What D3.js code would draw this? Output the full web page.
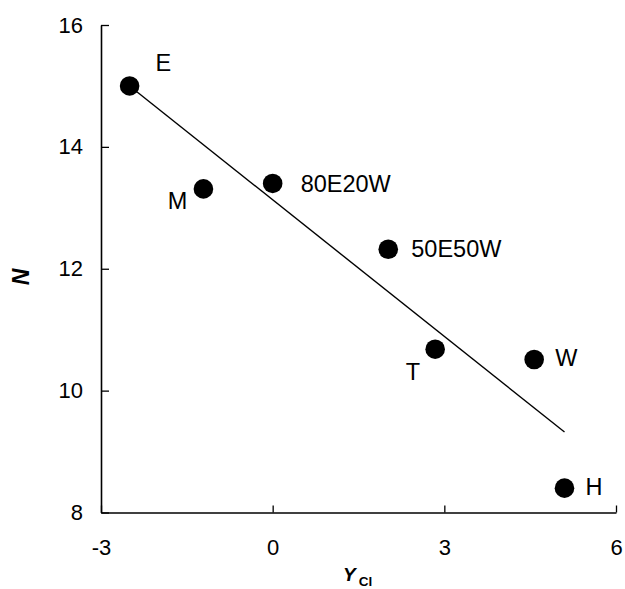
<!DOCTYPE html>
<html>
<head>
<meta charset="utf-8">
<script src="https://cdn.jsdelivr.net/npm/d3@7/dist/d3.min.js"></script>
<style>
  html, body { margin: 0; padding: 0; background: #fff; }
  svg { display: block; font-family: "Liberation Sans", Arial, sans-serif; }
</style>
</head>
<body>
<svg id="chart" width="625" height="589"></svg>
<script>
// ---- data ----
const names = ["E", "M", "80E20W", "50E50W", "T", "W", "H"];
const yclValues = [-2.5, -1.21, 0.0, 2.02, 2.84, 4.57, 5.10];
const nValues = [15.0, 13.31, 13.40, 12.32, 10.68, 10.51, 8.40];
const trendX = [-2.5, 5.1];
const trendY = [15.0, 9.32];
const xTicks = [-3, 0, 3, 6];
const yTicks = [8, 10, 12, 14, 16];

// ---- layout ----
const svg = d3.select("#chart");
const x = d3.scaleLinear().domain([-3, 6]).range([101, 616]);
const y = d3.scaleLinear().domain([8, 16]).range([512.5, 25]);

// label placement (style): anchor and pixel offsets from point centre
const labelStyle = {
  "E":      { anchor: "start", dx: 26,  dy: -15 },
  "M":      { anchor: "end",   dx: -16, dy: 20 },
  "80E20W": { anchor: "start", dx: 28,  dy: 9 },
  "50E50W": { anchor: "start", dx: 23,  dy: 8 },
  "T":      { anchor: "end",   dx: -15, dy: 31 },
  "W":      { anchor: "start", dx: 21,  dy: 6 },
  "H":      { anchor: "start", dx: 21,  dy: 7 }
};

// axes
const fmt = d => String(d);
const xAxis = d3.axisBottom(x).tickValues(xTicks).tickFormat(fmt).tickSizeInner(-7).tickSizeOuter(0).tickPadding(27);
const yAxis = d3.axisLeft(y).tickValues(yTicks).tickFormat(fmt).tickSizeInner(-8).tickSizeOuter(0).tickPadding(18);

const gx = svg.append("g").attr("transform", `translate(0,${y(8)})`).call(xAxis);
const gy = svg.append("g").attr("transform", `translate(${x(-3)},0)`).call(yAxis);

[gx, gy].forEach(g => {
  g.select(".domain").attr("stroke", "#000").attr("stroke-width", 1.6);
  g.selectAll(".tick line").attr("stroke", "#000").attr("stroke-width", 1.3);
  g.selectAll(".tick text").attr("fill", "#000").attr("font-size", 22)
    .attr("font-family", "Liberation Sans, Arial, sans-serif");
});
gx.selectAll(".tick text").attr("dy", "0.71em");

// trend line
const line = d3.line().x(d => x(d[0])).y(d => y(d[1]));
svg.append("path")
  .datum(d3.zip(trendX, trendY))
  .attr("d", line)
  .attr("fill", "none")
  .attr("stroke", "#000")
  .attr("stroke-width", 1.4);

// points
const pts = d3.zip(names, yclValues, nValues);
svg.append("g").selectAll("circle")
  .data(pts).join("circle")
  .attr("cx", d => x(d[1]))
  .attr("cy", d => y(d[2]))
  .attr("r", 9.8)
  .attr("fill", "#000");

svg.append("g").selectAll("text")
  .data(pts).join("text")
  .attr("x", d => x(d[1]) + labelStyle[d[0]].dx)
  .attr("y", d => y(d[2]) + labelStyle[d[0]].dy)
  .attr("text-anchor", d => labelStyle[d[0]].anchor)
  .attr("font-size", 23.5)
  .attr("fill", "#000")
  .text(d => d[0]);

// axis titles
const xt = svg.append("text")
  .attr("x", 343).attr("y", 581)
  .attr("font-size", 19).attr("font-weight", "bold").attr("fill", "#000");
xt.append("tspan").attr("font-style", "italic").text("Y");
xt.append("tspan").attr("font-size", 13.5).attr("dx", 3).attr("dy", 5).text("Cl");

svg.append("text")
  .attr("transform", "translate(29,277) rotate(-90)")
  .attr("text-anchor", "middle")
  .attr("font-size", 23).attr("font-weight", "bold").attr("font-style", "italic")
  .attr("fill", "#000")
  .text("N");
</script>
</body>
</html>
